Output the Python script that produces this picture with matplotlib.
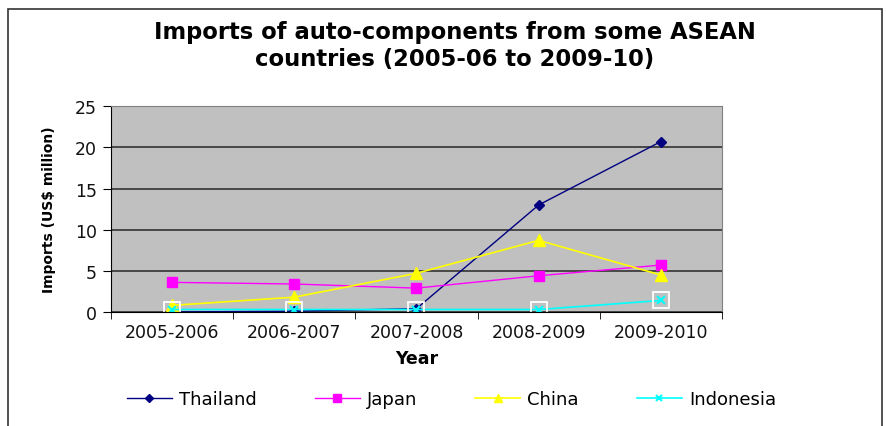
import matplotlib.pyplot as plt
import numpy as np
from matplotlib.patches import Rectangle

plt.rcParams['font.family'] = ['DejaVu Sans']

years = ['2005-2006', '2006-2007', '2007-2008', '2008-2009', '2009-2010']
thailand = [0.0, 0.1, 0.4, 13.0, 20.7]
japan = [3.6, 3.4, 2.9, 4.4, 5.7]
china = [0.8, 1.8, 4.7, 8.7, 4.5]
indonesia = [0.3, 0.3, 0.3, 0.3, 1.4]

fig = plt.figure(figsize=(8.87, 4.27), dpi=100)
fig.patch.set_facecolor('white')
# outer chart frame
fig.patches.append(Rectangle((8 / 887, -0.05), 874 / 887, 1 - 10 / 427 + 0.05,
                             transform=fig.transFigure, fill=False,
                             edgecolor='#333333', lw=1.2))

ax = fig.add_axes([0.125, 0.267, 0.689, 0.482])
ax.set_facecolor('#C0C0C0')
x = np.arange(len(years))

ax.plot(x, thailand, color='#000080', lw=1, marker='D', ms=5.5, label='Thailand')
ax.plot(x, japan, color='#FF00FF', lw=1, marker='s', ms=6.5, label='Japan')
ax.plot(x, china, color='#FFFF00', lw=1.2, marker='^', ms=8, label='China')
ax.plot(x, indonesia, color='#00FFFF', lw=1.2, marker='x', ms=6, mew=1.5,
        label='Indonesia')
# white box drawn around the Indonesia markers
ax.plot(x, indonesia, ls='none', marker='s', ms=11, mfc='none', mec='white',
        mew=1.3)

ax.set_xlim(-0.5, 4.5)
ax.set_ylim(0, 25)
ax.set_yticks(np.arange(0, 26, 5))
ax.yaxis.grid(True, color='#333333', lw=1.2)
ax.set_axisbelow(True)
ax.set_xticks(x)
ax.set_xticklabels(years, fontsize=12.5, color='#111111')
ax.set_xticks(np.arange(-0.5, 5, 1), minor=True)
ax.tick_params(axis='x', which='major', length=0, pad=8)
ax.tick_params(axis='x', which='minor', length=5, color='black')
ax.tick_params(axis='y', labelsize=12.5, length=6, pad=4, labelcolor='#111111')
for side in ['top', 'right']:
    ax.spines[side].set_color('#808080')
for side in ['left', 'bottom']:
    ax.spines[side].set_color('black')

ax.set_xlabel('Year', fontsize=12.5, fontweight='bold', labelpad=6)
ax.set_ylabel('Imports (US$ million)', fontsize=10, fontweight='bold',
              labelpad=14)

fig.text(0.513, 0.892, 'Imports of auto-components from some ASEAN\ncountries (2005-06 to 2009-10)',
         ha='center', va='center', fontsize=16.3, fontweight='bold',
         linespacing=1.2)

handles, labels = ax.get_legend_handles_labels()
fig.legend(handles, labels, loc='center', bbox_to_anchor=(0.509, 0.063), ncol=4,
           frameon=False, fontsize=13, handlelength=2.5, handletextpad=0.4,
           columnspacing=3.2, markerscale=0.8)

fig.savefig('out.png', dpi=100, facecolor='white')
